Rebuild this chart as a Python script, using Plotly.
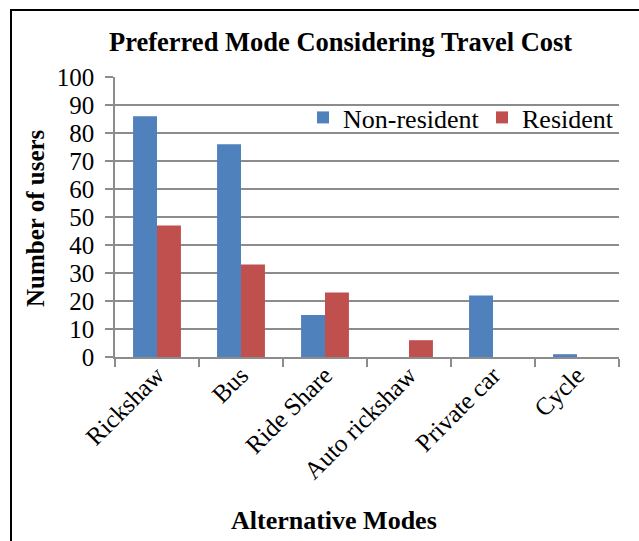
import plotly.graph_objects as go

modes = ["Rickshaw", "Bus", "Ride Share", "Auto rickshaw", "Private car", "Cycle"]
non_resident = [86, 76, 15, 0, 22, 1]
resident = [47, 33, 23, 6, 0, 0]
y_ticks = list(range(0, 101, 10))

W, H = 639, 541
L, R, T, B = 115, 20, 77, 184
PW, PH = W - L - R, H - T - B


def px_x(p):
    return (p - L) / PW


def px_y(p):
    return (H - B - p) / PH


FONT = "Liberation Serif, Times New Roman, serif"
GRID = "#8c8c8c"

fig = go.Figure()
fig.add_trace(go.Bar(name="Non-resident", x=modes, y=non_resident,
                     marker=dict(color="#4F81BD", line=dict(width=0))))
fig.add_trace(go.Bar(name="Resident", x=modes, y=resident,
                     marker=dict(color="#C0504D", line=dict(width=0))))

fig.update_layout(
    width=W, height=H,
    margin=dict(l=L, r=R, t=T, b=B, pad=0, autoexpand=False),
    paper_bgcolor="white", plot_bgcolor="white",
    font=dict(family=FONT, color="black"),
    barmode="group", bargap=0.43, bargroupgap=0,
    showlegend=True,
    legend=dict(orientation="h", x=px_x(303), y=px_y(94),
                xanchor="left", yanchor="top",
                font=dict(size=26, family=FONT),
                bgcolor="rgba(0,0,0,0)", borderwidth=0,
                itemwidth=30, entrywidth=134, entrywidthmode="pixels",
                tracegroupgap=0),
    xaxis=dict(type="category", tickson="boundaries", ticks="outside",
               ticklen=8, tickcolor=GRID, tickwidth=1.5,
               showline=True, linecolor=GRID, linewidth=1.5,
               showgrid=False, tickangle=-45, automargin=False,
               ticklabelstandoff=-8,
               tickfont=dict(size=25, family=FONT)),
    yaxis=dict(range=[0, 100], tickvals=y_ticks, ticks="outside",
               ticklen=8, tickcolor=GRID, tickwidth=1.5,
               showline=True, linecolor=GRID, linewidth=1.5,
               showgrid=True, gridcolor=GRID, gridwidth=1.5,
               zeroline=False, automargin=False, ticklabelstandoff=6,
               tickfont=dict(size=25, family=FONT)),
)

# chart title and axis titles
fig.add_annotation(text="<b>Preferred Mode Considering Travel Cost</b>",
                   xref="paper", yref="paper", x=px_x(340), y=px_y(42),
                   xanchor="center", yanchor="middle", showarrow=False,
                   font=dict(size=26.5, family=FONT))
fig.add_annotation(text="<b>Number of users</b>",
                   xref="paper", yref="paper", x=px_x(35), y=px_y(218),
                   xanchor="center", yanchor="middle", showarrow=False,
                   textangle=-90, font=dict(size=25, family=FONT))
fig.add_annotation(text="<b>Alternative Modes</b>",
                   xref="paper", yref="paper", x=px_x(334), y=px_y(520),
                   xanchor="center", yanchor="middle", showarrow=False,
                   font=dict(size=26, family=FONT))

# frame around the chart (left and top edges fall inside the page)
fig.add_shape(type="rect", xref="paper", yref="paper",
              x0=px_x(11), x1=px_x(660), y0=px_y(560), y1=px_y(10),
              line=dict(color="black", width=2), layer="below")

fig.write_html("out.html")
